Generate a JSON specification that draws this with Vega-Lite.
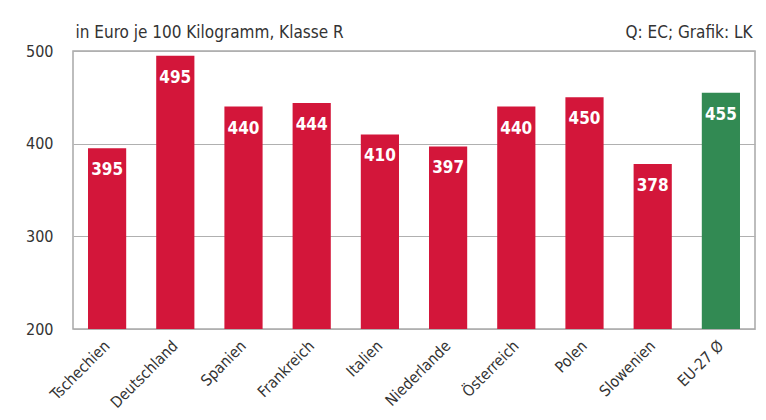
{
  "$schema": "https://vega.github.io/schema/vega-lite/v6.json",
  "width": 682,
  "height": 278,
  "autosize": {"type": "none"},
  "padding": {"left": 73, "top": 51, "right": 11, "bottom": 91},
  "background": "white",
  "config": {
    "view": {"stroke": "#a8a8a8", "strokeWidth": 1.5},
    "font": "DejaVu Sans Condensed, Roboto, sans-serif"
  },
  "data": {
    "values": [
      {"land": "Tschechien", "wert": 395, "gruppe": "Land"},
      {"land": "Deutschland", "wert": 495, "gruppe": "Land"},
      {"land": "Spanien", "wert": 440, "gruppe": "Land"},
      {"land": "Frankreich", "wert": 444, "gruppe": "Land"},
      {"land": "Italien", "wert": 410, "gruppe": "Land"},
      {"land": "Niederlande", "wert": 397, "gruppe": "Land"},
      {"land": "Österreich", "wert": 440, "gruppe": "Land"},
      {"land": "Polen", "wert": 450, "gruppe": "Land"},
      {"land": "Slowenien", "wert": 378, "gruppe": "Land"},
      {"land": "EU-27 Ø", "wert": 455, "gruppe": "EU"}
    ]
  },
  "encoding": {
    "x": {
      "field": "land",
      "type": "nominal",
      "sort": null,
      "scale": {"paddingInner": 0.44, "paddingOuter": 0.22},
      "axis": {
        "title": null,
        "labelAngle": -45,
        "labelAlign": "right",
        "labelBaseline": "middle",
        "labelFontSize": 15.5,
        "labelColor": "#333333",
        "labelPadding": 14,
        "ticks": false,
        "domain": false
      }
    }
  },
  "layer": [
    {
      "mark": {"type": "bar", "clip": true},
      "encoding": {
        "y": {
          "field": "wert",
          "type": "quantitative",
          "scale": {"domain": [200, 500], "nice": false, "zero": false},
          "axis": {
            "values": [200, 300, 400, 500],
            "grid": true,
            "gridColor": "#b0b0b0",
            "gridWidth": 1,
            "ticks": false,
            "domain": false,
            "labelFontSize": 16,
            "labelColor": "#333333",
            "labelPadding": 20,
            "title": "in Euro je 100 Kilogramm, Klasse R",
            "titleAngle": 0,
            "titleAlign": "left",
            "titleBaseline": "alphabetic",
            "titleX": 2,
            "titleY": -14,
            "titleFontSize": 17,
            "titleFontWeight": "normal",
            "titleColor": "#333333"
          }
        },
        "color": {
          "field": "gruppe",
          "type": "nominal",
          "scale": {"domain": ["Land", "EU"], "range": ["#d3163a", "#328a53"]},
          "legend": null
        }
      }
    },
    {
      "mark": {"type": "text", "baseline": "top", "dy": 14, "color": "white", "fontWeight": "bold", "fontSize": 17},
      "encoding": {
        "y": {
          "field": "wert",
          "type": "quantitative",
          "axis": {
            "orient": "right",
            "labels": false,
            "grid": false,
            "ticks": false,
            "domain": false,
            "title": "Q: EC; Grafik: LK",
            "titleAngle": 0,
            "titleAlign": "right",
            "titleBaseline": "alphabetic",
            "titleX": -3,
            "titleY": -14,
            "titleFontSize": 17,
            "titleFontWeight": "normal",
            "titleColor": "#333333"
          }
        },
        "text": {"field": "wert", "type": "quantitative"}
      }
    }
  ],
  "resolve": {"axis": {"y": "independent"}}
}
